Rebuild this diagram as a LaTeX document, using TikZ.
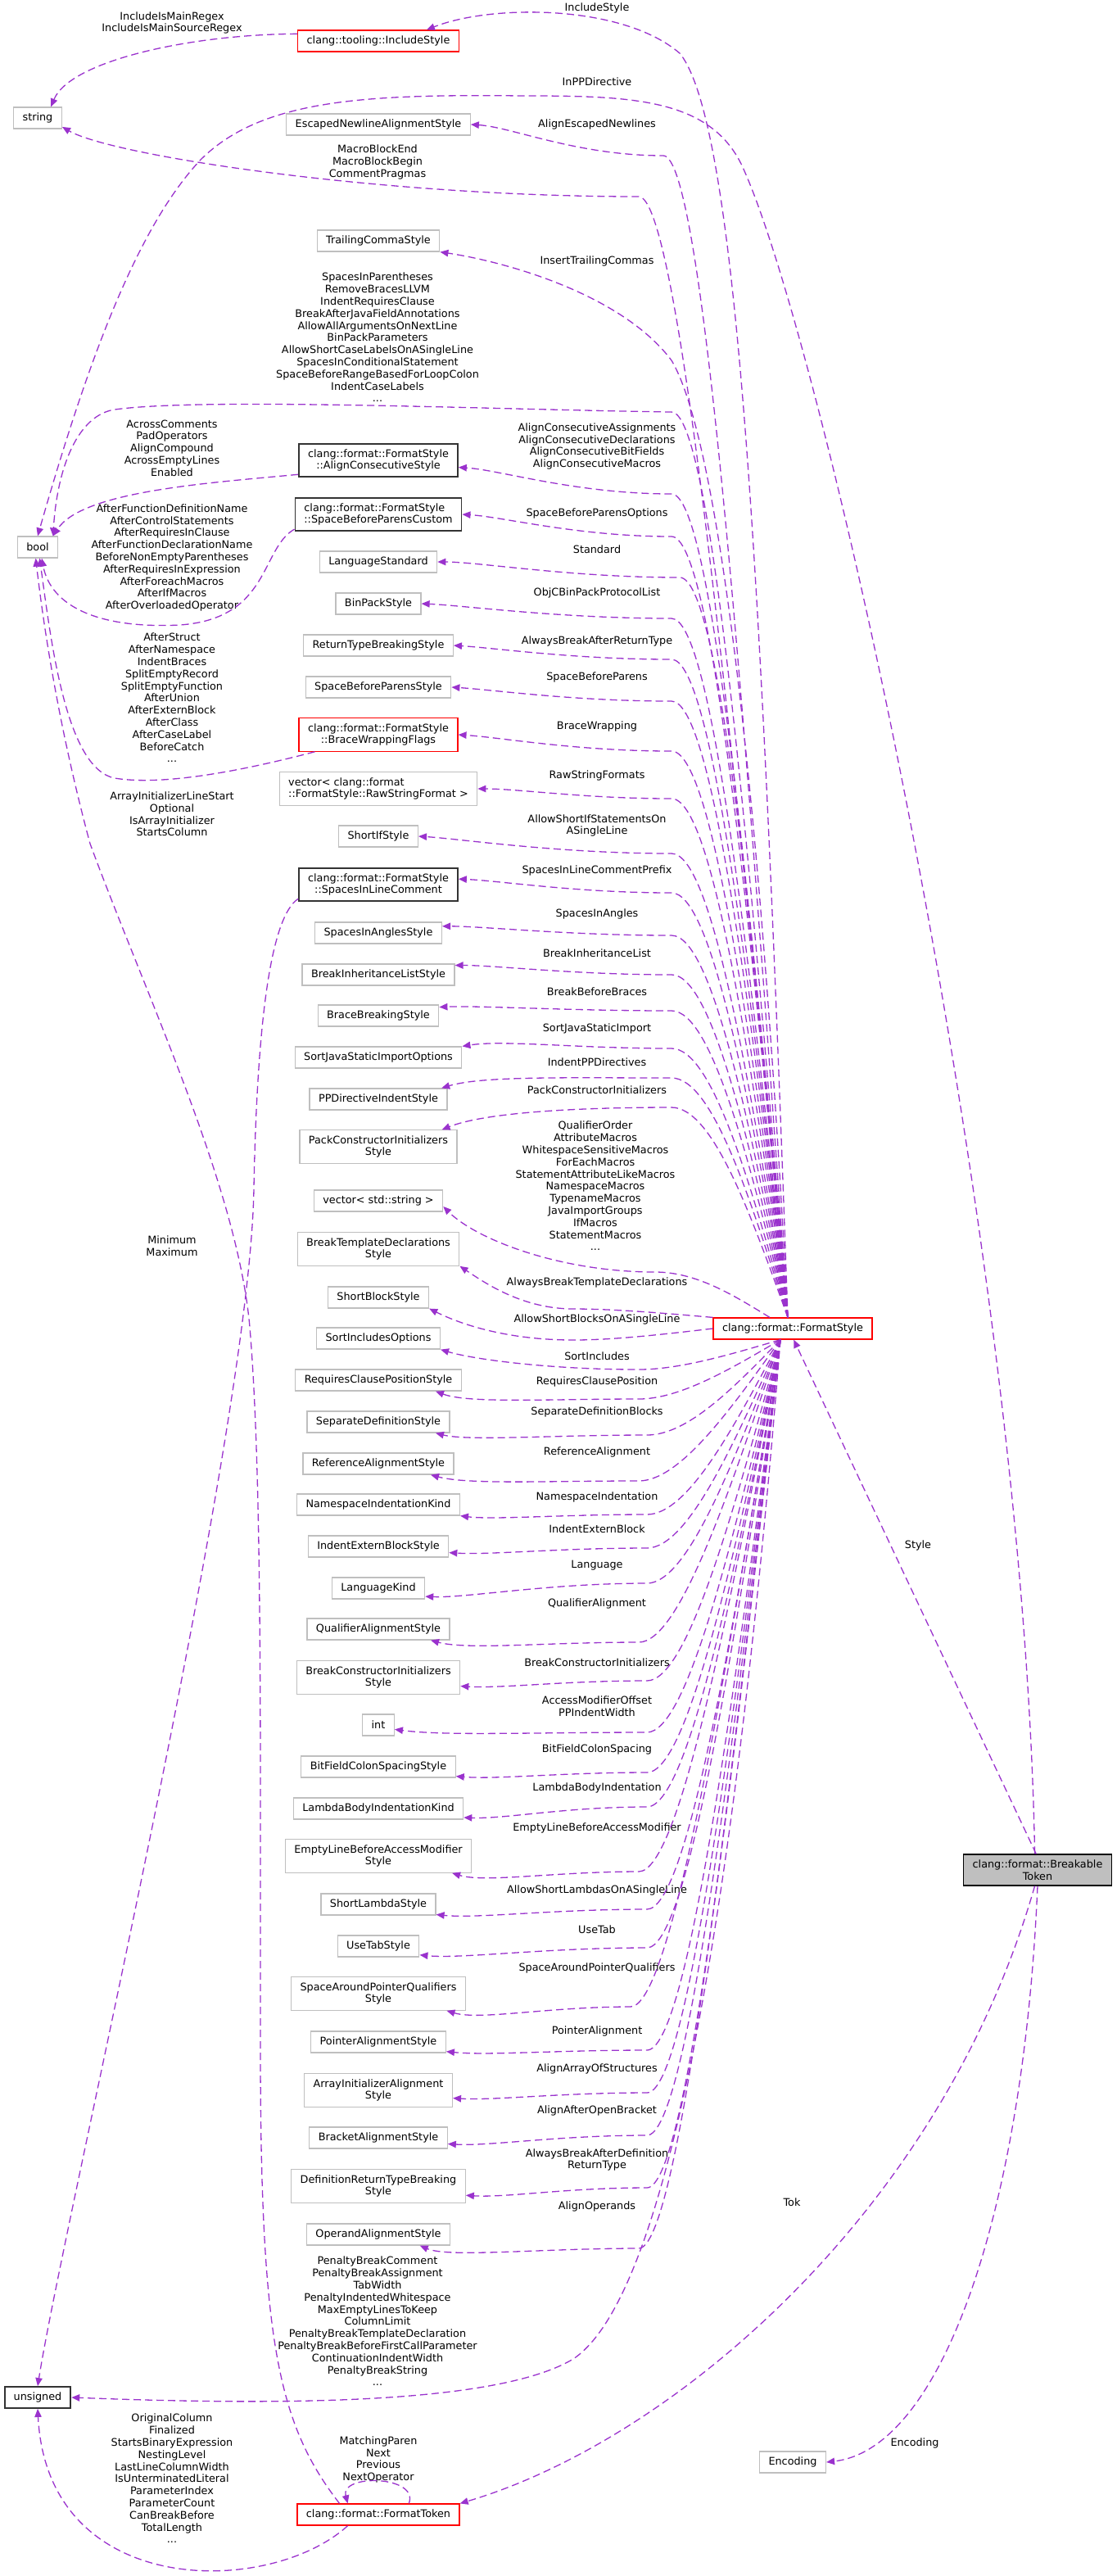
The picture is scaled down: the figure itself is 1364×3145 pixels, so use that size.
\documentclass[tikz,border=0pt]{standalone}
\usepackage{fontspec}
\setmainfont{DejaVu Sans}
\usetikzlibrary{calc,arrows.meta}

\definecolor{edgeviolet}{HTML}{9A32CD}
\definecolor{boxgray}{HTML}{BFBFBF}
\newcommand{\dfont}{\fontsize{6.4}{7.4}\selectfont}

\tikzset{
  typebox/.style={draw=boxgray, line width=0.6pt, fill=white, font=\dfont, align=center,
    inner xsep=5.5pt, inner ysep=3.3pt, minimum height=13pt},
  redbox/.style={typebox, draw=red},
  darkbox/.style={typebox, draw=black!80, line width=0.9pt},
  lbl/.style={font=\dfont, align=center, inner sep=0pt},
  dep/.style={draw=edgeviolet, line width=0.65pt, dash pattern=on 4.5pt off 2.5pt,
    -{Triangle[length=5pt,width=4.2pt]}}
}

% member edge: from, corner point, to, pull at the arrow end
\newcommand{\depedge}[4]{%
  \coordinate (via) at (#2);
  \coordinate (bend) at ($(via)+(50,0)$);
  \draw[dep] (#1) .. controls ($(#1)!0.5!(bend)$) and (bend) .. (via)
    .. controls ($(via)!0.45!(via-|#3)$) and ($(#3)+(#4)$) .. (#3);}

\begin{document}
\begin{tikzpicture}[x=0.5pt,y=-0.5pt]
\useasboundingbox (0,0) rectangle (1364,3145);

  %basic types
  \node[typebox] (str) at (46,144) {string};
  \node[typebox] (boolt) at (46,668) {bool};
  \node[darkbox] (unsig) at (46,2927) {unsigned};

  %types of the members
  \node[redbox] (incl) at (462,50) {clang::tooling::IncludeStyle};
  \node[typebox] (escnl) at (462,152) {EscapedNewlineAlignmentStyle};
  \node[typebox] (trail) at (462,294) {TrailingCommaStyle};
  \node[darkbox] (aligncons) at (462,562) {clang::format::FormatStyle\\::AlignConsecutiveStyle};
  \node[darkbox, align=left] (sbpcustom) at (462,628) {clang::format::FormatStyle\\::SpaceBeforeParensCustom};
  \node[typebox] (langstd) at (462,686) {LanguageStandard};
  \node[typebox] (binpack) at (462,737) {BinPackStyle};
  \node[typebox] (rettype) at (462,788) {ReturnTypeBreakingStyle};
  \node[typebox] (sbpstyle) at (462,839) {SpaceBeforeParensStyle};
  \node[redbox] (bwflags) at (462,897) {clang::format::FormatStyle\\::BraceWrappingFlags};
  \node[typebox, align=left] (rawstr) at (462,963) {vector< clang::format\\::FormatStyle::RawStringFormat >};
  \node[typebox] (shortif) at (462,1021) {ShortIfStyle};
  \node[darkbox] (silc) at (462,1080) {clang::format::FormatStyle\\::SpacesInLineComment};
  \node[typebox] (sianglestyle) at (462,1139) {SpacesInAnglesStyle};
  \node[typebox] (bilstyle) at (462,1190) {BreakInheritanceListStyle};
  \node[typebox] (bbstyle) at (462,1240) {BraceBreakingStyle};
  \node[typebox] (sjsio) at (462,1291) {SortJavaStaticImportOptions};
  \node[typebox] (ppdis) at (462,1342) {PPDirectiveIndentStyle};
  \node[typebox] (pcis) at (462,1400) {PackConstructorInitializers\\Style};
  \node[typebox] (vecstr) at (462,1466) {vector< std::string >};
  \node[typebox] (btds) at (462,1525) {BreakTemplateDeclarations\\Style};
  \node[typebox] (sbs) at (462,1584) {ShortBlockStyle};
  \node[typebox] (sio) at (462,1634) {SortIncludesOptions};
  \node[typebox] (rcps) at (462,1685) {RequiresClausePositionStyle};
  \node[typebox] (sds) at (462,1736) {SeparateDefinitionStyle};
  \node[typebox] (ras) at (462,1787) {ReferenceAlignmentStyle};
  \node[typebox] (nik) at (462,1837) {NamespaceIndentationKind};
  \node[typebox] (iebs) at (462,1888) {IndentExternBlockStyle};
  \node[typebox] (lk) at (462,1939) {LanguageKind};
  \node[typebox] (qas) at (462,1989) {QualifierAlignmentStyle};
  \node[typebox] (bcis) at (462,2048) {BreakConstructorInitializers\\Style};
  \node[typebox] (intt) at (462,2106) {int};
  \node[typebox] (bfcss) at (462,2157) {BitFieldColonSpacingStyle};
  \node[typebox] (lbik) at (462,2208) {LambdaBodyIndentationKind};
  \node[typebox] (elbams) at (462,2266) {EmptyLineBeforeAccessModifier\\Style};
  \node[typebox] (sls) at (462,2325) {ShortLambdaStyle};
  \node[typebox] (uts) at (462,2376) {UseTabStyle};
  \node[typebox] (sapqs) at (462,2434) {SpaceAroundPointerQualifiers\\Style};
  \node[typebox] (pas) at (462,2493) {PointerAlignmentStyle};
  \node[typebox] (aias) at (462,2552) {ArrayInitializerAlignment\\Style};
  \node[typebox] (bas) at (462,2610) {BracketAlignmentStyle};
  \node[typebox] (drtbs) at (462,2669) {DefinitionReturnTypeBreaking\\Style};
  \node[typebox] (oas) at (462,2728) {OperandAlignmentStyle};
  \node[redbox] (ft) at (462,3070) {clang::format::FormatToken};

  %FormatStyle, Encoding and the class itself
  \node[redbox] (fs) at (968,1622) {clang::format::FormatStyle};
  \node[typebox] (enc) at (968,3006) {Encoding};
  \node[typebox, draw=black, fill=boxgray] (bt) at (1267,2283) {clang::format::Breakable\\Token};

  %labels
  \node[lbl] (lInclMain) at (210,28) {IncludeIsMainRegex\\IncludeIsMainSourceRegex};
  \node[lbl] (lInclStyle) at (729,10) {IncludeStyle};
  \node[lbl] (lInPP) at (729,100) {InPPDirective};
  \node[lbl] (lEscNl) at (729,152) {AlignEscapedNewlines};
  \node[lbl] (lMacro) at (461,198) {MacroBlockEnd\\MacroBlockBegin\\CommentPragmas};
  \node[lbl] (lTrail) at (729,319) {InsertTrailingCommas};
  \node[lbl] (lSpaces) at (461,412) {SpacesInParentheses\\RemoveBracesLLVM\\IndentRequiresClause\\BreakAfterJavaFieldAnnotations\\AllowAllArgumentsOnNextLine\\BinPackParameters\\AllowShortCaseLabelsOnASingleLine\\SpacesInConditionalStatement\\SpaceBeforeRangeBasedForLoopColon\\IndentCaseLabels\\...};
  \node[lbl] (lAcross) at (210,547) {AcrossComments\\PadOperators\\AlignCompound\\AcrossEmptyLines\\Enabled};
  \node[lbl] (lAlignCons) at (729,545) {AlignConsecutiveAssignments\\AlignConsecutiveDeclarations\\AlignConsecutiveBitFields\\AlignConsecutiveMacros};
  \node[lbl] (lSbpOpt) at (729,627) {SpaceBeforeParensOptions};
  \node[lbl] (lAfterFn) at (210,681) {AfterFunctionDefinitionName\\AfterControlStatements\\AfterRequiresInClause\\AfterFunctionDeclarationName\\BeforeNonEmptyParentheses\\AfterRequiresInExpression\\AfterForeachMacros\\AfterIfMacros\\AfterOverloadedOperator};
  \node[lbl] (lStd) at (729,671) {Standard};
  \node[lbl] (lObjC) at (729,724) {ObjCBinPackProtocolList};
  \node[lbl] (lRetType) at (729,783) {AlwaysBreakAfterReturnType};
  \node[lbl] (lSbp) at (729,827) {SpaceBeforeParens};
  \node[lbl] (lAfterStruct) at (210,852) {AfterStruct\\AfterNamespace\\IndentBraces\\SplitEmptyRecord\\SplitEmptyFunction\\AfterUnion\\AfterExternBlock\\AfterClass\\AfterCaseLabel\\BeforeCatch\\...};
  \node[lbl] (lBraceWrap) at (729,887) {BraceWrapping};
  \node[lbl] (lRawStr) at (729,947) {RawStringFormats};
  \node[lbl] (lArrayInit) at (210,994) {ArrayInitializerLineStart\\Optional\\IsArrayInitializer\\StartsColumn};
  \node[lbl] (lShortIf) at (729,1008) {AllowShortIfStatementsOn\\ASingleLine};
  \node[lbl] (lSilcPrefix) at (729,1063) {SpacesInLineCommentPrefix};
  \node[lbl] (lAngles) at (729,1116) {SpacesInAngles};
  \node[lbl] (lInherit) at (729,1164) {BreakInheritanceList};
  \node[lbl] (lBeforeBraces) at (729,1211) {BreakBeforeBraces};
  \node[lbl] (lJavaImport) at (729,1256) {SortJavaStaticImport};
  \node[lbl] (lPPDir) at (729,1297) {IndentPPDirectives};
  \node[lbl] (lPackCtor) at (729,1331) {PackConstructorInitializers};
  \node[lbl] (lMacros) at (727,1448) {QualifierOrder\\AttributeMacros\\WhitespaceSensitiveMacros\\ForEachMacros\\StatementAttributeLikeMacros\\NamespaceMacros\\TypenameMacros\\JavaImportGroups\\IfMacros\\StatementMacros\\...};
  \node[lbl] (lMinMax) at (210,1521) {Minimum\\Maximum};
  \node[lbl] (lTemplDecl) at (729,1566) {AlwaysBreakTemplateDeclarations};
  \node[lbl] (lShortBlocks) at (729,1611) {AllowShortBlocksOnASingleLine};
  \node[lbl] (lSortIncl) at (729,1656) {SortIncludes};
  \node[lbl] (lReqClause) at (729,1687) {RequiresClausePosition};
  \node[lbl] (lSepDef) at (729,1724) {SeparateDefinitionBlocks};
  \node[lbl] (lRefAlign) at (729,1773) {ReferenceAlignment};
  \node[lbl] (lNsIndent) at (729,1828) {NamespaceIndentation};
  \node[lbl] (lExtern) at (729,1867) {IndentExternBlock};
  \node[lbl] (lLang) at (729,1911) {Language};
  \node[lbl] (lQualAlign) at (729,1958) {QualifierAlignment};
  \node[lbl] (lCtorInit) at (729,2030) {BreakConstructorInitializers};
  \node[lbl] (lOffset) at (729,2083) {AccessModifierOffset\\PPIndentWidth};
  \node[lbl] (lBitField) at (729,2136) {BitFieldColonSpacing};
  \node[lbl] (lLambda) at (729,2183) {LambdaBodyIndentation};
  \node[lbl] (lEmptyLine) at (729,2232) {EmptyLineBeforeAccessModifier};
  \node[lbl] (lShortLambdas) at (729,2308) {AllowShortLambdasOnASingleLine};
  \node[lbl] (lUseTab) at (729,2356) {UseTab};
  \node[lbl] (lPtrQual) at (729,2403) {SpaceAroundPointerQualifiers};
  \node[lbl] (lPtrAlign) at (729,2480) {PointerAlignment};
  \node[lbl] (lArrStruct) at (729,2526) {AlignArrayOfStructures};
  \node[lbl] (lOpenBracket) at (729,2577) {AlignAfterOpenBracket};
  \node[lbl] (lDefRet) at (729,2637) {AlwaysBreakAfterDefinition\\ReturnType};
  \node[lbl] (lOperands) at (729,2694) {AlignOperands};
  \node[lbl] (lPenalty) at (461,2834) {PenaltyBreakComment\\PenaltyBreakAssignment\\TabWidth\\PenaltyIndentedWhitespace\\MaxEmptyLinesToKeep\\ColumnLimit\\PenaltyBreakTemplateDeclaration\\PenaltyBreakBeforeFirstCallParameter\\ContinuationIndentWidth\\PenaltyBreakString\\...};
  \node[lbl] (lOrigCol) at (210,3026) {OriginalColumn\\Finalized\\StartsBinaryExpression\\NestingLevel\\LastLineColumnWidth\\IsUnterminatedLiteral\\ParameterIndex\\ParameterCount\\CanBreakBefore\\TotalLength\\...};
  \node[lbl] (lMatching) at (462,3003) {MatchingParen\\Next\\Previous\\NextOperator};
  \node[lbl] (lStyle) at (1121,1887) {Style};
  \node[lbl] (lTok) at (967,2689) {Tok};
  \node[lbl] (lEncoding) at (1117,2983) {Encoding};

  %start points on FormatStyle
  \coordinate (fsTop) at ($(fs.north)+(-6,0)$);
  \coordinate (fsTopL) at ($(fs.north)+(-28,0)$);
  \coordinate (fsBot) at ($(fs.south)+(-15,0)$);

  %FormatStyle members, above
  \draw[dep] (fsTop) .. controls (930,700) and (900,150) .. (830,65)
    .. controls (760,5) and (600,5) .. (incl.13);
  \depedge{fsTop}{780,240}{str.-20}{60,35}
  \depedge{fsTop}{810,190}{escnl.east}{50,3}
  \draw[dep] (fsTop) .. controls (930,1000) and (880,540) .. (820,440)
    .. controls (760,360) and (620,320) .. (trail.south east);
  \draw[dep] (fsTop) .. controls (916,1057) and (870,503) .. (820,503)
    .. controls (600,500) and (250,485) .. (140,500)
    .. controls (95,507) and (70,570) .. (boolt.36);
  \depedge{fsTop}{820,603}{aligncons.-5}{50,3}
  \depedge{fsTop}{820,655}{sbpcustom.east}{50,3}
  \depedge{fsTop}{830,705}{langstd.east}{50,0}
  \depedge{fsTop}{820,755}{binpack.east}{50,2}
  \depedge{fsTop}{820,805}{rettype.east}{50,3}
  \depedge{fsTop}{820,856}{sbpstyle.east}{50,3}
  \depedge{fsTop}{820,917}{bwflags.east}{50,3}
  \depedge{fsTop}{820,975}{rawstr.east}{50,0}
  \depedge{fsTop}{820,1042}{shortif.east}{50,3}
  \depedge{fsTop}{820,1090}{silc.4}{50,2}
  \depedge{fsTop}{820,1142}{sianglestyle.6}{50,0}
  \depedge{fsTop}{820,1190}{bilstyle.7}{50,0}
  \depedge{fsTop}{820,1234}{bbstyle.8}{50,-2}
  \depedge{fsTop}{820,1280}{sjsio.north east}{50,-8}
  \depedge{fsTop}{820,1316}{ppdis.10}{50,-15}
  \depedge{fsTop}{820,1352}{pcis.15}{50,-20}
  \depedge{fsTopL}{800,1553}{vecstr.-5}{40,40}
  \depedge{fs.north west}{700,1598}{btds.south east}{30,20}
  \depedge{fs.west}{700,1636}{sbs.south east}{40,20}

  %FormatStyle members, below
  \depedge{fsBot}{780,1672}{sio.south east}{40,12}
  \depedge{fsBot}{780,1708}{rcps.-11}{40,15}
  \depedge{fsBot}{790,1752}{sds.-11}{40,10}
  \depedge{fsBot}{780,1808}{ras.-12}{45,12}
  \depedge{fsBot}{790,1849}{nik.south east}{40,5}
  \depedge{fsBot}{790,1890}{iebs.-5}{50,3}
  \depedge{fsBot}{790,1933}{lk.-10}{50,2}
  \depedge{fsBot}{780,2005}{qas.-12}{45,12}
  \depedge{fsBot}{790,2052}{bcis.-6}{50,3}
  \depedge{fsBot}{790,2115}{intt.-15}{60,8}
  \depedge{fsBot}{790,2164}{bfcss.-7}{50,4}
  \depedge{fsBot}{790,2206}{lbik.-6}{50,2}
  \depedge{fsBot}{780,2285}{elbams.-13}{40,12}
  \depedge{fsBot}{790,2331}{sls.-10}{50,5}
  \depedge{fsBot}{790,2378}{uts.-12}{50,5}
  \depedge{fsBot}{770,2450}{sapqs.-14}{40,12}
  \depedge{fsBot}{790,2503}{pas.-8}{50,5}
  \depedge{fsBot}{790,2555}{aias.-6}{50,3}
  \depedge{fsBot}{790,2607}{bas.-5}{50,3}
  \depedge{fsBot}{790,2671}{drtbs.-6}{50,3}
  \depedge{fsBot}{780,2745}{oas.-15}{35,15}
  \draw[dep] (fsBot) .. controls (900,2300) and (820,2800) .. (700,2880)
    .. controls (600,2940) and (300,2935) .. (unsig.east);

  %nested structs
  \draw[dep] (incl.175) .. controls (230,42) and (85,75) .. (str.40);
  \draw[dep] (aligncons.190) .. controls (250,590) and (100,600) .. (boolt.36);
  \draw[dep] (sbpcustom.190) .. controls (318,670) and (330,755) .. (220,763)
    .. controls (120,768) and (62,740) .. (boolt.-70);
  \draw[dep] (bwflags.195) .. controls (300,940) and (200,960) .. (140,950)
    .. controls (80,938) and (62,780) .. (boolt.-80);
  \draw[dep] (silc.190) .. controls (330,1120) and (314,1250) .. (310,1450)
    .. controls (306,1750) and (80,2700) .. (unsig.north);

  %FormatToken
  \draw[dep] (ft.20) .. controls (512,3022) and (415,3020) .. (ft.160);
  \draw[dep] (ft.200) .. controls (330,3170) and (58,3175) .. (unsig.south);
  \draw[dep] (ft.164) .. controls (340,2960) and (318,2860) .. (318,2500)
    .. controls (318,2100) and (320,1800) .. (305,1620)
    .. controls (290,1450) and (180,1220) .. (110,1030)
    .. controls (75,900) and (55,780) .. (boolt.-100);

  %BreakableToken
  \draw[dep] (bt.100) .. controls (1250,1500) and (1000,400) .. (905,200)
    .. controls (865,120) and (770,117) .. (640,117)
    .. controls (450,115) and (320,120) .. (245,195)
    .. controls (170,275) and (110,430) .. (boolt.north);
  \draw[dep] (bt.95) -- (fs.-85);
  \draw[dep] (bt.260) .. controls (1150,2700) and (820,2980) .. (ft.north east);
  \draw[dep] (bt.south) .. controls (1250,2700) and (1150,2990) .. (enc.east);
\end{tikzpicture}
\end{document}
